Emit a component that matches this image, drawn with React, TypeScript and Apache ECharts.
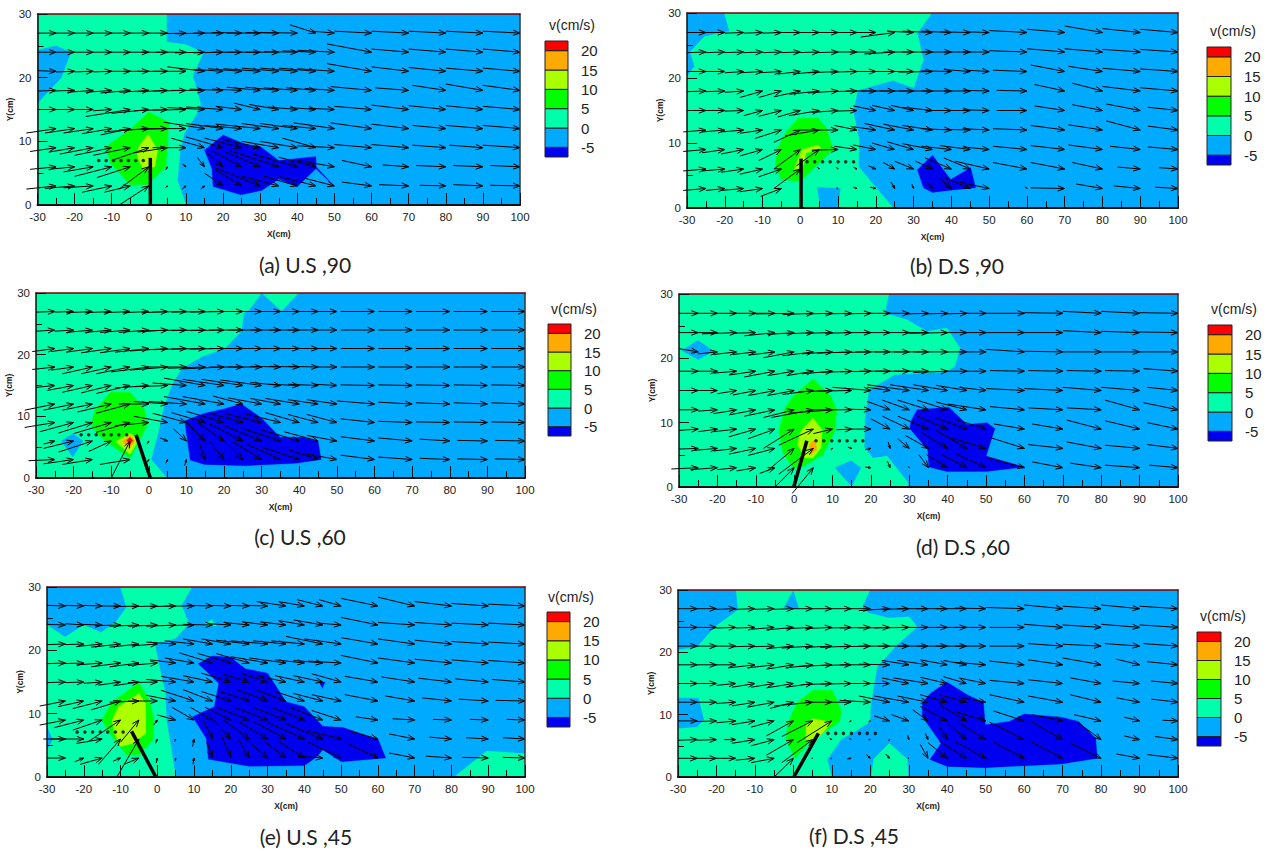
import React, { useEffect, useRef } from "react";
import * as echarts from "echarts";

const X = [-25,-20,-15,-10,-5,0,5,10,15,20,25,30,35,40,45,50,60,70,80,90,100];
const ROWS = [27,24,21,18,15,12,9,6,3];
const LEVELS_LOW = [-7.5,-5,0,5,10,15,20];
const LEVELS_HIGH = [-5,0,5,10,15,20,22.5];
const LEGEND_TICKS = [-5,0,5,10,15,20];

const aU = [
[5,5,5,5,5,5,6,7,8,8,8,9,9,10,7,6,10,10,10,10,10],
[5,5,5,5,6,6,7,8,8,8,8,9,9,9,9,10,12,10,10,10,10],
[5,5,5,5,6,7,8,9,10,8,9,10,10,10,10,10,12,10,10,10,10],
[5,6,7,7,8,8,8,9,9,9,8,9,9,9,8,8,11,9,9,10,10],
[5,5,5,5,12,10,9,9,10,10,7,7,8,8,7,7,10,10,10,10,10],
[8,8,8,8,8,12,13,12,11,10,10,12,10,10,9,11,11,10,9,10,10],
[7,7,9,10,10,10,9,9,9,10,10,10,10,10,9,10,10,10,9,9,10],
[7,7,8,10,9,8,.5,1,2,4,8,10,13,12,10,10,8,7,8,8,8],
[8,8,8,8,7,8,.5,1,1,5,7,12,10,9,10,8,8,8,7,8,8],
];
const aV = [
[0,0,0,0,0,0,0,.1,.1,0,-.1,0,-.1,-.1,-1.3,-.3,-.3,-.3,-.3,-.3,-.3],
[0,0,0,0,0,0,0,0,.1,.1,0,0,0,-.1,-.2,-.3,-1.3,-.5,-.5,-.5,-.5],
[-.1,.1,.1,.1,0,0,0,0,-.7,-.3,-.4,-.4,-.5,-.5,-.5,-.4,-1.2,-.7,-.6,-.5,-.5],
[.1,.1,.3,.3,.4,.3,.2,.1,0,-.2,-.2,-.5,-.5,-.4,-.4,-.3,-.6,-.4,-.8,-1,-.8],
[0,0,0,.2,1.1,.6,.2,.1,-.3,-.4,-.5,-1,-.8,-.4,-.3,-.2,-.5,-.7,-.6,-.6,-.5],
[.7,.7,.7,.8,1,.5,.2,0,-1,-.8,-.5,-.7,-.8,-.8,-.5,-.9,-.9,-.7,-.5,-.5,-.5],
[.6,.7,1,1.2,1.2,2,.8,0,-1.5,-1.7,-1.5,-1.3,-1,-1,-1.5,-.3,-.5,-.5,-.4,-.4,-.4],
[.4,.4,.8,1.5,1.7,3.5,.5,-.5,-1.5,-2,-2.5,-2.5,-2.5,-2,-1.5,-1,-1,-.3,-.2,-.2,-.2],
[.5,.4,.3,1,1,3,.3,.5,.5,-2,-2.5,-2.8,-1.5,-1.5,-1.5,-1.2,-.6,-.2,-.1,-.2,-.1],
];
const bU = [
[5,5,5,5,5,7,6,6,6,6,9,7,8,8,8,6,10,10,10,10,10],
[5,5,5,5,5,5,6,6,6,7,8,8,8,8,7,7,10,10,10,10,10],
[5,5,5,6,6,6,7,8,7,8,9,9,9,8,7,6,9,9,9,10,10],
[5,5,5,6,6,7,8,8,7,8,9,9,9,8,7,7,8,8,8,10,10],
[5,5,5,5,6,6,8,7,6,6,6,6,8,7,6,7,8,8,8,9,8],
[6,6,6,6,7,7,9,10,6,6,8,8,8,8,7,7,9,9,9,9,8],
[6,6,6,6,6,7,6,7,6,6,6,7,8,8,8,7,9,9,9,8,8],
[6,6,6,6,6,7,.5,.5,1,2,3,5,4.5,7,7,9,9,9,8,6,5],
[6,5,6,6,5.5,0,0,.5,1,1.5,1,.5,1.5,3,7,8,.5,9,7,7,6],
];
const bV = [
[0,0,.1,.1,.1,0,0,0,0,0,.7,-.2,-.2,-.2,-.1,-.1,-.3,-.5,-1,-.6,-.5],
[.1,.1,.1,.1,.1,.1,.1,.1,0,0,.3,0,0,0,0,0,-.2,-.5,-.5,-.4,-.4],
[0,0,.2,.2,.2,.4,.4,.2,.1,0,0,0,.1,-.1,-.3,-.2,-.2,-1,-.8,-.5,-.4],
[.1,.1,.2,1,1,.9,.5,.3,.1,0,0,0,0,0,0,-.1,-.1,-1,-1.2,-.7,-.5],
[0,0,.1,.8,.9,1,.8,.3,.1,-.7,-.8,-.8,-.5,0,0,-.1,0,-.7,-.9,-1,-.5],
[.3,.3,.3,.5,1.3,1.9,.9,0,-.7,-.5,-1,-.9,-.7,-.2,-.1,-.2,-.2,-.7,-.8,-1.4,-.6],
[.3,.5,.7,1,1.7,3,2.5,.1,-.5,-.7,-1,-1.2,-.9,-.5,-.6,-.4,-.5,-.6,-.7,-.5,-.4],
[.3,.3,.5,.8,1.2,3,-.3,-.3,-.3,-.5,-1,-1.2,-1.2,-1.7,-1.7,-1.2,-1,-1,-1,-.3,-.2],
[.3,.3,.3,.5,1.2,0,0,-.1,-.2,-.2,-1,-.7,-1,-1.5,-1.7,-1,-.3,-.1,-.7,-.4,-.2],
];
const cU = [
[5,5,7,7,7,7,7,9,9,9,9,9,8,8,8,6,9,9,9,9,9],
[5,5,7,7,8,8,8,10,9,9,9,9,8,8,8,6,9,9,9,9,9],
[6,6,7,8,8,9,10,9,9,9,9,9,8,8,8,6,9,9,9,9,9],
[6,6,8,8,9,10,10,10,10,11,9,9,8,8,8,6,9,9,9,9,9],
[5,7,8,8,9,9,9,9,11,11,11,11,8,8,8,6,9,9,9,9,9],
[8,8,8,9,9,8,9,10,11,11,8,9,8,9,8,8,10,9,9,9,9],
[8,9,9,10,9,9,9,9,9,10,9,10,10,9,8,8,9,9,9,9,9],
[3,8,9,6,5,.5,2,3.5,5,7,9,10,10,10,9,8,9,9,8,8,8],
[7,8,8,0,8,.5,.5,.5,1.5,4,5,8,9,10,8,9,9,9,8,8,8],
];
const cV = [
[.1,.1,.2,.2,.2,.2,.2,.1,.1,.1,0,0,0,0,0,0,0,0,0,0,0],
[.2,.2,.4,.4,.4,.4,.3,.1,.1,.1,0,0,0,0,0,0,0,0,0,0,0],
[.5,.5,.6,.7,.7,.6,.4,.2,.1,.1,0,0,0,0,0,0,0,0,0,0,0],
[.4,.5,1.1,1.1,1.1,.8,.5,0,.2,.3,0,0,-.1,-.1,-.1,0,0,0,0,0,0],
[.3,.8,1.1,1.2,1.3,.4,.2,-.4,-1.2,-1,-1,-.9,-.5,-.2,-.2,-.2,-.1,-.1,-.1,-.1,-.1],
[1,1,1,1.3,1.5,0,-.4,-.4,-1.2,-1.2,-1.3,-1,-.9,-.9,-.7,-.7,-.5,-.3,-.2,-.2,-.2],
[.8,1.5,1.7,1.8,1.6,.5,-1,-1.5,-1.6,-1.8,-1.5,-1.5,-1.5,-1.6,-1.3,-1.3,-.6,-.2,-.1,-.1,-.1],
[.5,1.2,1.8,1.7,6,.5,-.5,-2,-3,-3,-2.8,-2.5,-2,-1.8,-1.5,-.9,-.7,-.5,-.3,-.1,-.1],
[.2,.7,.8,0,.8,.5,.6,1,-2.5,-3,-3,-3,-2.5,-2,-1.6,-1,-.7,-.4,-.2,-.1,-.1],
];
const dU = [
[5,5,5,7,6,10,8,7,7,7,6,6,6,6,6,6,10,10,10,10,10],
[5,5,9,6,8,7,7,7,7,7,7,6,6,10,6,6,10,10,10,10,10],
[5,5,6,6,7,8,8,8,9,9,9,9,9,9,6,7,10,10,10,10,10],
[5,5,6,7,8,7,7,8,8,8,8,9,9,9,6,6,9,9,9,9,9],
[5,5,5,6,7,7,8,9,9,10,6,11,10,9,8,7,10,10,10,10,8],
[5,5,6,7,8,8,11,11,10,6,6,7,8,8,8,10,9,9,9,9,9],
[5,5,6,7,7,8,9,5,4,5,5,7,8,8,8,8,8,8,9,9,8],
[5,6,6,7,7,7,9,.5,1,1.5,.5,3,6,7,8,9,9,9,9,9,8],
[7,7,5,5,4,5,5.5,0,0,1.5,.7,.3,2.5,5.5,6.5,8,10,8,8,9,7.5],
];
const dV = [
[0,0,0,0,0,.1,.2,.1,.1,.1,0,0,.1,.1,.1,0,0,-.1,-.3,-.3,-.1],
[0,0,.2,.1,.5,.3,.2,.1,.1,0,0,0,0,.1,0,0,0,0,-.3,-.2,-.1],
[-.5,.3,.4,.4,.5,.9,.6,.3,.2,.1,0,0,0,0,0,0,-.4,-.1,0,0,0],
[0,0,.3,.6,.9,.7,.7,.4,.2,.1,0,0,0,.2,0,0,-.1,-.1,-.1,-.1,-.4],
[0,0,.5,.7,.8,.8,.6,.2,.1,-.5,-.5,-.9,-.9,-.9,-.8,-.5,-.3,-.3,-.5,-.5,-.5],
[0,.2,.6,.8,1,1.2,1.2,.5,0,-.1,-1.3,-1.5,-1.5,-1.5,-1.2,-.9,-.5,-.3,-.3,-1.5,-1.1],
[.2,.4,.4,1.2,1.5,3,2.5,.7,.1,0,-1.6,-2,-2,-2,-1.7,-1.5,-.8,-.8,-1.4,-1.3,-1],
[.1,.3,.4,.9,1.1,3.5,4,.2,-.2,.2,-1,-1.5,-2,-2.5,-2.8,-1.6,-1.7,-.6,-1,-.5,-.6],
[.2,.3,.3,.5,.9,3,4,0,0,-.1,-1,-.2,-2,-2,-2,-2.2,-1.6,-.9,-.7,-.4,-.4],
];
const eU = [
[5,5,5,5,7,7,7,8,7,6,6,6,8,7,7,6,10,10,10,10,10],
[5,5,6,7,8,8,8,9,8,6,7,7,7,7,8,6,10,10,10,10,10],
[5,5,7,8,8,7,8,8,8,8,9,10,9,9,10,10,10,10,10,10,10],
[5,6,7,8,8,8,7,8,9,9,9,10,10,8,8,9,10,10,10,10,10],
[5,5,5,6,7,8,8,9,8,8,7,7,8,8,8,8,9,9,9,9,9],
[7,7,8,8,8,8,8,9,8,8,8,8,8,8,8,8,9,8,8,8,8],
[7,8,8,9,5,1,5,6,6,7,9,9,9,9,9,8,6,6,5,5,5],
[6,9,7,6,6,.5,.3,.4,2.5,5,7,8,9,10,10,9,8,7,6,6,6],
[5,2.5,6,2,4,.3,.1,.3,1.5,2.5,3,6,6,7,7,9,8,7,7,7,6],
];
const eV = [
[-.1,-.1,-.1,0,.1,.1,.1,0,-.1,-.1,-.1,-.1,-.7,-.7,-1,-1,-1.2,-1.4,-.7,-.4,-.3],
[-.1,-.2,-.1,.1,.2,.2,.2,.1,-.1,-.2,-.4,-.5,-.5,-.7,-.8,-.3,-1.2,-.4,-.4,-.3,-.3],
[.1,.1,.4,.5,.5,.3,-.3,-.5,-.8,-.8,-.6,-.5,-.5,-.5,-1.2,-.8,-1,-.8,-.6,-.4,-.3],
[.1,.1,.3,.6,.6,.4,-.5,-.8,-1.6,-1.5,-1.5,-1,-.8,-.5,-.4,-.3,-1.2,-.8,-.6,-.5,-.4],
[.1,.1,.2,.5,.6,.1,-.4,-.9,-1,-1.4,-1.2,-1.3,-1,-1,-1,-1.3,-.9,-.8,-.6,-.5,-.4],
[.8,.9,1.2,1.4,.2,0,-.9,-1.7,-1.8,-1.5,-1.5,-1.7,-1.7,-1.5,-1.2,-1,-1,-.8,-.5,-.3,-.1],
[.8,1.2,1.6,3.5,3.5,.8,-.8,-2,-2,-2,-2,-2,-2,-2,-2,-1.5,-.5,-.2,-.1,-.1,-.1],
[0,0,.7,4,6,.7,.4,1.2,-3,-3.2,-3,-2.8,-2.8,-2.6,-2.4,-1.3,-1.3,-.8,-.3,-.2,-.2],
[0,.6,1,.5,1,.8,.5,1,-2.5,-3.5,-3,-3,-2.7,-2.6,-.3,-2.5,-2.2,-.8,-.3,-.1,-.1],
];
const fU = [
[5,5,5,5,5,5,5,5,6,6,8,7,8,8,8,8,10,10,10,10,10],
[5,5,5,5,6,7,7,7,6,8,8,9,7,7,8,8,9,10,10,10,10],
[5,5,5,6,6,7,8,7,8,8,8,8,8,8,8,8,9,9,10,9,9],
[5,5,6,7,7,7,7,9,8,8,8,7,8,7,6,8,9,9,10,6,8],
[5,5,5,6,6,7,7,8,8,8,8,7,9,7,6,7,9,9,8,7,7],
[5,5,5,6,7,6,10,7,6,8,8,9,8,7,7,7,9,9,8,6,7],
[5,5,5,6,6,7,8,9,.5,.5,4,4.5,4,7,7,8,8,8,7,4,4],
[5,5,3,6,6,7,8,.6,.5,.5,.3,.3,.7,2,5,7,9,8,6,4,6],
[5,5,5,5,6,5,.3,.4,1,1,1,.3,2,5,7,8,8,8,8,6,8],
];
const fV = [
[0,0,.1,.1,.1,.1,0,0,0,0,.3,.1,0,0,0,-.1,-.2,-.6,-.4,-.6,-.4],
[0,0,.1,.1,.3,.4,.2,.2,.1,.1,.1,.1,0,0,0,0,0,-.5,-.4,-.5,-.4],
[0,0,0,.1,.1,.4,.3,.2,.2,.1,0,0,0,0,0,0,0,-.4,-.3,-.4,-.4],
[0,0,0,.5,.5,.7,.5,.3,.1,0,-.1,-.7,-.7,-.8,-.7,-.4,-.6,-.8,-1.1,-.9,-.5],
[0,0,.3,.6,.6,.7,.6,.2,.1,0,0,-.9,-.9,-1,-1.1,-.9,-.5,-.6,-.9,-.4,-.4],
[0,0,.2,.6,.8,1,.6,0,0,-.3,-1,-1,-1,-1.2,-1.2,-.8,-1.2,-1,-1.2,-.7,-.5],
[0,.1,.3,.6,1,2.4,2.5,3.5,.2,.2,-.8,-1,-1.8,-2.3,-2.6,-1.5,-1.6,-1,-1,-.6,-.1],
[.1,.1,0,.6,1,2.5,3.7,-.2,-.2,0,.2,-.7,-1,-2,-2.7,-2.7,-2.8,-2.8,-2.7,-.6,-.5],
[0,0,0,.3,.7,3,0,.1,.1,-.6,-.7,0,-2.2,-2.5,-2.7,-2.7,-2.6,-2.6,-2.4,-.7,-.6],
];

// Contour regions: [band index into LEVELS, outline]
const aRegions: any[] = [
[2,[[-30,30],[4.8,30],[4.8,25.6],[10,25.2],[14.7,23.9],[11.8,20.3],[14,15.9],[12.9,14.3],[9.5,11.2],[8.5,8.6],[7.7,3.9],[10,0],[-30,0]]],
[1,[[-30,24.3],[-25,25],[-21,24],[-23.6,20],[-30,16]]],
[3,[[0,14.6],[5.4,13],[4.6,6],[-.4,3.2],[-5,3.2],[-10.3,6.5],[-11.7,9.1],[-4.8,12]]],
[4,[[-.2,11.1],[2.4,8.6],[1.6,6],[-1.5,5.6],[-3.1,7.5],[-2.8,9.1]]],
[0,[[20,11],[26.1,9.5],[30,9.2],[35,7],[45,7.6],[45.1,6],[49.9,3],[45,5.7],[40,2.9],[35,4.1],[30.5,2.3],[24.8,1.6],[17.3,2.9],[17,5.7],[15,8.6]]],
];
const bRegions: any[] = [
[2,[[-20.1,30],[-18.8,27.2],[-25.4,26.4],[-29.2,24],[-28,21.8],[-30,20.2],[-30,0],[24.6,0],[15.4,6.4],[15.6,10.5],[14,14.9],[15.2,18.1],[24.6,19.6],[30,18.5],[32.6,22.8],[31,26.9],[34.8,30]]],
[1,[[4.5,3.2],[10.6,3],[10,0],[5.3,0]]],
[3,[[-.5,13.8],[4.8,13.8],[6.9,12.3],[8.7,9],[3.7,6.2],[0,4.1],[-5.1,4.4],[-6.6,6.7],[-5.8,9.5],[-3.7,11.8]]],
[4,[[.5,9],[4.8,9.7],[5.6,9],[1.6,8.5],[.5,5.9],[-1.6,5.9],[-.7,7.4]]],
[0,[[35,8.1],[39.8,4.4],[45.1,6.2],[46.4,3.1],[39.2,2.7],[35,2.4],[32.6,3.1],[31,5.9]]],
];
const cRegions: any[] = [
[2,[[-30,30],[39.8,30],[35.3,27.1],[30,30],[26.7,27.3],[25.3,26.8],[24.6,23.8],[20.2,21],[14.2,19.7],[8.8,17.8],[6.1,15.1],[3.9,11.4],[2.8,8.1],[.6,3],[4.8,0],[-30,0]]],
[1,[[-20.2,7.2],[-17.5,6],[-20.2,3.4],[-23.3,6]]],
[3,[[-10.2,13.9],[-5,13.9],[-1.3,11.4],[-.4,8.6],[-2.6,5.9],[-5,3.2],[-10.2,5.4],[-13.5,7],[-15.4,8.6],[-14.3,11]]],
[4,[[-5,7.3],[-2.6,6.2],[-5,3.8],[-8.8,5.9]]],
[5,[[-5,6.9],[-3.7,6],[-5,4.9],[-7.2,5.9]]],
[6,[[-5,6.6],[-4.2,6.1],[-5,5.5],[-5.9,6.1]]],
[0,[[24.6,12],[30,9.7],[34.9,6.6],[40.9,6.6],[45,5.9],[45.8,3],[39.2,2.4],[25.7,2],[14.8,2.2],[11,2.9],[9.9,7.6],[9.6,9.3],[14.8,10.5],[19.9,11.2]]],
];
const dRegions: any[] = [
[2,[[-30,30],[24.7,30],[23.6,27],[29.4,26],[34.6,24.2],[39.8,24.7],[43.2,21.6],[41.9,18.8],[39.8,17.9],[26.3,17.5],[19.5,15.1],[18.4,10.7],[18.3,6.1],[20.5,4.5],[24.2,4.8],[29.4,.9],[29.9,0],[-30,0]]],
[1,[[-25.1,22.8],[-20.9,21.1],[-25,19.8],[-29.3,21.2]]],
[1,[[14.8,4.1],[17.4,3],[15,.1],[10.6,3]]],
[3,[[4.9,16.8],[9.6,14.1],[11.1,11.8],[10.6,8.7],[7.5,5],[2.3,3.2],[-.3,3],[-2.9,5.3],[-4,8.7],[-2.4,12.3],[-.3,14.1]]],
[4,[[4.9,10.7],[7.3,8.9],[7,6.1],[4.9,4.5],[2.8,4.5],[.9,6.6],[1.7,8.7]]],
[5,[[5.4,7.4],[5.9,5.8],[4.4,5],[3.9,6.6]]],
[0,[[32,12],[40.3,12.4],[45,9.7],[50.2,10],[52.3,9.1],[50,4.8],[60.1,3.1],[50,2.4],[39.8,2.4],[35.1,3.1],[34.8,5.8],[30.1,9.1],[30.4,10.2]]],
];
const eRegions: any[] = [
[2,[[-10,30],[9.4,30],[6.6,27.1],[8.6,24.2],[5,21.9],[-.6,21],[0,19],[2.2,13.2],[2.5,9],[5,0],[-30,0],[-30,4.3],[-28.4,5.9],[-30,8],[-30,24],[-25.1,22.1],[-20,24],[-15.3,22.8],[-11.2,24.5],[-8.4,26.8]]],
[2,[[12.8,24],[14.8,24.9],[16.1,23.8]]],
[2,[[80.7,0],[89.6,4.1],[100,3.7],[100,0]]],
[3,[[-5,14.9],[-2.2,12.2],[-.9,9],[-1.2,5.9],[-5,3.5],[-8.4,3.5],[-12.3,6.4],[-15.1,9],[-12.3,11.9]]],
[4,[[-5,13.2],[-3.2,11.6],[-3.1,6.9],[-6.7,5.3],[-10,4.8],[-11.7,6.9],[-12.3,9],[-10.6,11.1]]],
[0,[[15,19.1],[20,18.9],[23.9,17.1],[30,16.4],[35,11.9],[40,11.1],[45,8],[50.6,7.8],[60.1,5.9],[62.1,3],[50.1,2.4],[45,4.3],[43.4,3.2],[40,1.8],[25,1.7],[13.9,2.8],[13.3,6.1],[9.6,9.5],[15.5,11.1],[16.7,14.8],[13.9,16.4],[11.1,17.9]]],
[0,[[44,15],[45.6,15],[44.9,14]]],
];
const fRegions: any[] = [
[2,[[-14.9,30],[0,30],[-2.7,27],[1.5,27],[0,30],[19.9,30],[17.9,27.3],[19.6,26.3],[24.9,25.5],[30.1,25.7],[32.2,24.1],[27,21.2],[21.8,17.7],[20.2,11.9],[19.9,8.8],[12.4,6],[8.8,2.8],[10,0],[-30,0],[-30,7.8],[-25.1,8],[-23.2,9.2],[-24.6,12.7],[-30,12.7],[-30,20.4],[-25.1,20.8],[-20.4,24.1],[-14.4,26.8]]],
[2,[[24.9,5.4],[29.6,2.9],[29.9,0],[20.2,0],[20.9,2.9]]],
[3,[[5.1,13.9],[10.1,13.9],[12.4,10.8],[12.1,8.9],[5,6],[.4,3],[-1.9,6],[-1.5,8.6],[.9,11.9]]],
[4,[[5.1,9.4],[10.1,8.8],[5.6,5.7],[3.2,6],[3.3,8.4]]],
[0,[[40,15.2],[45.2,13.2],[49.4,12],[49.9,8.4],[56.1,8.9],[60,10.1],[69.7,9.6],[74.2,8.9],[78.6,6.2],[79,3],[69.7,2.1],[49.9,1.5],[40,1.7],[35.5,2.8],[38.4,5.4],[33.5,9.7],[33.5,11.9],[35.8,13.5]]],
];

// Plate (foot → tip) and dotted line x positions at its height
const aPlate = [[.4,0],[.4,7.4]]; const aDots = [-13.5,-11.5,-9.5,-7.5,-5.5,-3.5,-1.5]; const aDotY = 7;
const bPlate = [[.2,0],[.2,7.6]]; const bDots = [1.8,3.8,5.9,7.9,10,12,14.1]; const bDotY = 7.1;
const cPlate = [[.4,0],[-3.4,7]]; const cDots = [-18,-16,-14,-12,-10,-8,-5.9]; const cDotY = 7;
const dPlate = [[-.1,0],[3.3,7.2]]; const dDots = [5.7,7.7,9.8,11.8,13.8,15.9,17.9]; const dDotY = 7.2;
const ePlate = [[-.4,0],[-7,7.2]]; const eDots = [-21.8,-19.7,-17.6,-15.5,-13.5,-11.4,-9.3]; const eDotY = 7.1;
const fPlate = [[.1,0],[6.5,7]]; const fDots = [9,11,13,15.1,17.2,19.2,21.3]; const fDotY = 7;

const CAPTIONS = ["(a) U.S ,90","(b) D.S ,90","(c) U.S ,60","(d) D.S ,60","(e) U.S ,45","(f) D.S ,45"];
const LEGEND_TITLE = "v(cm/s)";
const COLORS = ["#0000F0","#00AAFF","#00FFAA","#00FF00","#AAFF00","#FFAA00","#FF0000"];

const SANS = "'Liberation Sans', Arial, sans-serif";

const panels = [
  { U:aU,V:aV,regions:aRegions,plate:aPlate,dots:aDots,dotY:aDotY, box:[37.5,14,520,205], leg:[545,41,568,157], cap:[305,264], ttl:[572,25] },
  { U:bU,V:bV,regions:bRegions,plate:bPlate,dots:bDots,dotY:bDotY, box:[687,13,1178,208], leg:[1207,47,1231,165], cap:[957,265], ttl:[1233,31] },
  { U:cU,V:cV,regions:cRegions,plate:cPlate,dots:cDots,dotY:cDotY, box:[36,293,525,478], leg:[548,324,571,436], cap:[300,536], ttl:[574,309] },
  { U:dU,V:dV,regions:dRegions,plate:dPlate,dots:dDots,dotY:dDotY, box:[679,294,1178,487], leg:[1208,325,1232,441], cap:[963,546], ttl:[1234,309] },
  { U:eU,V:eV,regions:eRegions,plate:ePlate,dots:eDots,dotY:eDotY, box:[47,587,525,777], leg:[547,612,570,727], cap:[306,836], ttl:[571,597] },
  { U:fU,V:fV,regions:fRegions,plate:fPlate,dots:fDots,dotY:fDotY, box:[678,590,1178,777], leg:[1197,632,1221,746], cap:[854,835], ttl:[1223,616] },
];

function buildOption() {
  const grid: any[] = [], xAxis: any[] = [], yAxis: any[] = [], series: any[] = [], graphic: any[] = [];
  panels.forEach((p, i) => {
    const [l, t, r, b] = p.box;
    const g = grid.length;
    grid.push({ left: l, top: t, width: r - l, height: b - t, show: true, backgroundColor: "#00AAFF", borderWidth: 0 });
    const xi = xAxis.length, yi = yAxis.length;
    xAxis.push({
      gridIndex: g, type: "value", min: -30, max: 100, interval: 10, z: 10,
      name: "X(cm)", nameLocation: "middle", nameGap: 24,
      nameTextStyle: { fontFamily: SANS, fontWeight: "bold", fontSize: 8.5, color: "#222" },
      axisLine: { show: true, onZero: false, lineStyle: { color: "#111", width: 2 } },
      axisTick: { show: true, inside: true, length: 12, lineStyle: { color: "#111", width: 1 } },
      minorTick: { show: true, splitNumber: 2, length: 7, lineStyle: { color: "#111", width: 1 } },
      axisLabel: { fontFamily: SANS, fontSize: 11.5, color: "#222", margin: 6, hideOverlap: false },
      splitLine: { show: false },
    });
    yAxis.push({
      gridIndex: g, type: "value", min: 0, max: 30, interval: 10, z: 10,
      name: "Y(cm)", nameLocation: "middle", nameGap: 19, nameRotate: 90,
      nameTextStyle: { fontFamily: SANS, fontWeight: "bold", fontSize: 8.5, color: "#222" },
      axisLine: { show: true, onZero: false, lineStyle: { color: "#111", width: 1.5 } },
      axisTick: { show: true, inside: true, length: 10, lineStyle: { color: "#111", width: 1 } },
      minorTick: { show: true, splitNumber: 2, length: 6, lineStyle: { color: "#111", width: 1 } },
      axisLabel: { fontFamily: SANS, fontSize: 11.5, color: "#222", margin: 6 },
      splitLine: { show: false },
    });
    // frame: top and right
    xAxis.push({ gridIndex: g, type: "value", position: "top", min: -30, max: 100, z: 10,
      axisLine: { show: true, onZero: false, lineStyle: { color: "#7a0000", width: 1.5 } },
      axisTick: { show: false }, axisLabel: { show: false }, splitLine: { show: false } });
    yAxis.push({ gridIndex: g, type: "value", position: "right", min: 0, max: 30, z: 10,
      axisLine: { show: true, onZero: false, lineStyle: { color: "#333", width: 1.5 } },
      axisTick: { show: false }, axisLabel: { show: false }, splitLine: { show: false } });

    const regions = p.regions;
    series.push({
      type: "custom", xAxisIndex: xi, yAxisIndex: yi, z: 2, silent: true, clip: true,
      data: regions.map((rg: any) => rg[1][0]),
      renderItem: (params: any, api: any) => {
        const rg = regions[params.dataIndex];
        return { type: "polygon", shape: { points: rg[1].map((q: number[]) => api.coord(q)) },
          style: { fill: COLORS[rg[0]], stroke: COLORS[rg[0]], lineWidth: 0.3 } };
      },
    });

    const arrows: number[][] = [];
    ROWS.forEach((y, ri) => X.forEach((x, ci) => {
      const u = p.U[ri][ci], v = p.V[ri][ci];
      if (u === 0 && v === 0) return;
      arrows.push([x, y, x - u, y - v]);
    }));
    series.push({
      type: "custom", xAxisIndex: xi, yAxisIndex: yi, z: 3, silent: true, clip: false,
      data: arrows,
      renderItem: (_: any, api: any) => {
        const tip = api.coord([api.value(0), api.value(1)]);
        const tail = api.coord([api.value(2), api.value(3)]);
        const dx = tip[0] - tail[0], dy = tip[1] - tail[1];
        const len = Math.hypot(dx, dy) || 1;
        const ux = dx / len, uy = dy / len;
        const h = Math.min(7, len * 0.45), w = h * 0.38;
        const a = [tip[0] - ux * h - uy * w, tip[1] - uy * h + ux * w];
        const c = [tip[0] - ux * h + uy * w, tip[1] - uy * h - ux * w];
        const style = { fill: "none", stroke: "#000", lineWidth: 1 };
        return { type: "group", children: [
          { type: "line", shape: { x1: tail[0], y1: tail[1], x2: tip[0], y2: tip[1] }, style },
          { type: "polyline", shape: { points: [a, tip, c] }, style },
        ] };
      },
    });

    series.push({
      type: "line", xAxisIndex: xi, yAxisIndex: yi, z: 5, silent: true, symbol: "none",
      data: p.plate, lineStyle: { color: "#000", width: 3.5 }, clip: false,
    });
    series.push({
      type: "scatter", xAxisIndex: xi, yAxisIndex: yi, z: 6, silent: true, symbol: "circle", symbolSize: 3.5,
      data: p.dots.map((x: number) => [x, p.dotY]), itemStyle: { color: "#000" },
    });

    // colour bar on its own scale
    const [ll, lt, lr, lb] = p.leg;
    const unit = (lb - lt) / 30;
    const lg = grid.length;
    grid.push({ left: ll, top: lt - unit * 2.5, width: lr - ll, height: unit * 35, show: false });
    const lxi = xAxis.length, lyi = yAxis.length;
    xAxis.push({ gridIndex: lg, type: "value", min: 0, max: 1, show: false });
    yAxis.push({
      gridIndex: lg, type: "value", position: "right", min: -10, max: 25, interval: 5,
      axisLine: { show: false }, axisTick: { show: false }, splitLine: { show: false },
      axisLabel: {
        fontFamily: SANS, fontSize: 15, color: "#222", margin: 13, padding: [6, 0, 0, 0],
        formatter: (v: number) => (LEGEND_TICKS.includes(v) ? String(v) : ""),
      },
    });
    series.push({
      type: "custom", xAxisIndex: lxi, yAxisIndex: lyi, z: 2, silent: true, clip: false,
      data: LEVELS_LOW.map((lo, k) => [lo, LEVELS_HIGH[k], k]),
      encode: { y: [0, 1] },
      renderItem: (_: any, api: any) => {
        const a = api.coord([0, api.value(1)]);
        const c = api.coord([1, api.value(0)]);
        return { type: "rect", shape: { x: a[0], y: a[1], width: c[0] - a[0], height: c[1] - a[1] },
          style: { fill: COLORS[api.value(2)], stroke: "#222", lineWidth: 1 } };
      },
    });

    graphic.push({ type: "text", x: p.ttl[0], y: p.ttl[1],
      style: { text: LEGEND_TITLE, fontFamily: SANS, fontSize: 14, fill: "#222", textAlign: "center", textVerticalAlign: "middle" } });
    graphic.push({ type: "text", x: p.cap[0], y: p.cap[1],
      style: { text: CAPTIONS[i], fontFamily: "Lato, 'Open Sans', sans-serif", fontSize: 21, fill: "#222", textAlign: "center", textVerticalAlign: "middle" } });
  });
  return { animation: false, backgroundColor: "#fff", grid, xAxis, yAxis, series, graphic };
}

export default function App() {
  const ref = useRef<HTMLDivElement>(null);
  useEffect(() => {
    const chart = echarts.init(ref.current!, undefined, { renderer: "svg" });
    chart.setOption(buildOption() as any);
    return () => chart.dispose();
  }, []);
  return <div ref={ref} style={{ position: "absolute", left: 0, top: 0, width: 1269, height: 853 }} />;
}
